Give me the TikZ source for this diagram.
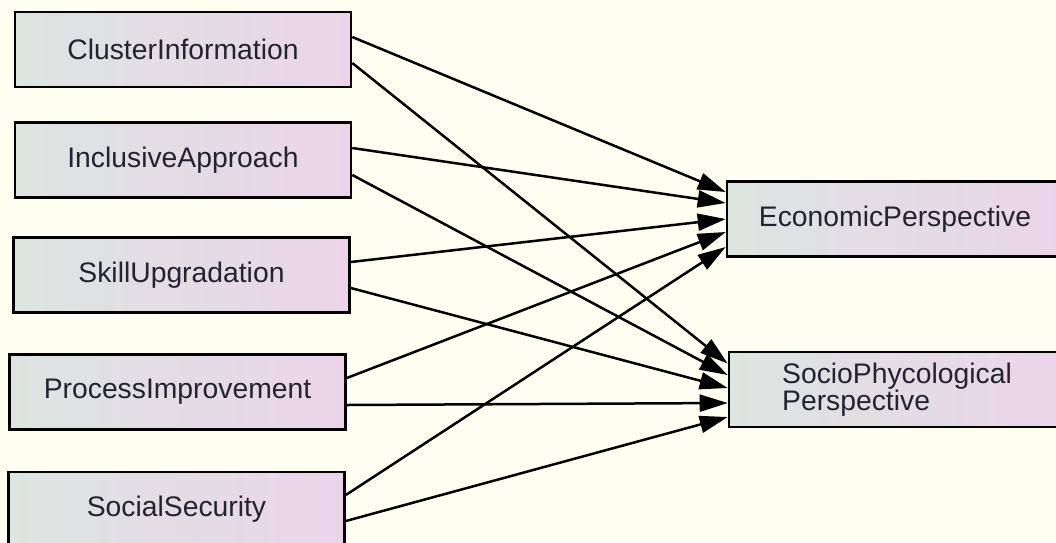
\documentclass[tikz,border=0pt]{standalone}
\usepackage{fontspec}
\setmainfont{Liberation Sans}
\usetikzlibrary{arrows.meta}
\definecolor{bg}{RGB}{254,255,240}
\definecolor{boxl}{RGB}{220,229,224}
\definecolor{boxr}{RGB}{235,212,234}
\definecolor{txt}{RGB}{35,35,50}
\begin{document}
\begin{tikzpicture}[x=1pt,y=-1pt,
  box/.style={draw=black, line width=2.6pt, left color=boxl, right color=boxr,
    minimum width=336pt, minimum height=75pt, inner sep=0pt,
    font=\fontsize{28.3}{26}\selectfont, text=txt},
  edge/.style={draw=black, line width=2.5pt, -{Triangle[length=28pt,width=17pt]}}]
\fill[bg] (0,0) rectangle (1056,542);
\useasboundingbox (0,0) rectangle (1056,542);
\clip (0,0) rectangle (1056,542);
\node[box] (c1) at (183,49.5) {ClusterInformation};
\node[box] (c2) at (183,160) {InclusiveApproach};
\node[box] (c3) at (181.5,275) {SkillUpgradation};
\node[box] (c4) at (177.5,392) {ProcessImprovement};
\node[box] (c5) at (176.5,509.5) {SocialSecurity};
\node[box] (ec) at (895,219) {EconomicPerspective};
\node[box, align=left] (sp) at (897,389.5) {SocioPhycological\\Perspective};
\draw[edge] ([yshift=12.5pt]c1.east) -- ([yshift=27pt]ec.west);
\draw[edge] ([yshift=-13.5pt]c1.east) -- ([yshift=26pt]sp.west);
\draw[edge] ([yshift=12pt]c2.east) -- ([yshift=16pt]ec.west);
\draw[edge] ([yshift=-15pt]c2.east) -- ([yshift=14.5pt]sp.west);
\draw[edge] ([yshift=13pt]c3.east) -- ([yshift=0pt]ec.west);
\draw[edge] ([yshift=-13pt]c3.east) -- ([yshift=1.5pt]sp.west);
\draw[edge] ([yshift=14pt]c4.east) -- ([yshift=-13pt]ec.west);
\draw[edge] ([yshift=-13pt]c4.east) -- ([yshift=-13.5pt]sp.west);
\draw[edge] ([yshift=14.5pt]c5.east) -- ([yshift=-28pt]ec.west);
\draw[edge] ([yshift=-11.5pt]c5.east) -- ([yshift=-27.5pt]sp.west);
\end{tikzpicture}
\end{document}
